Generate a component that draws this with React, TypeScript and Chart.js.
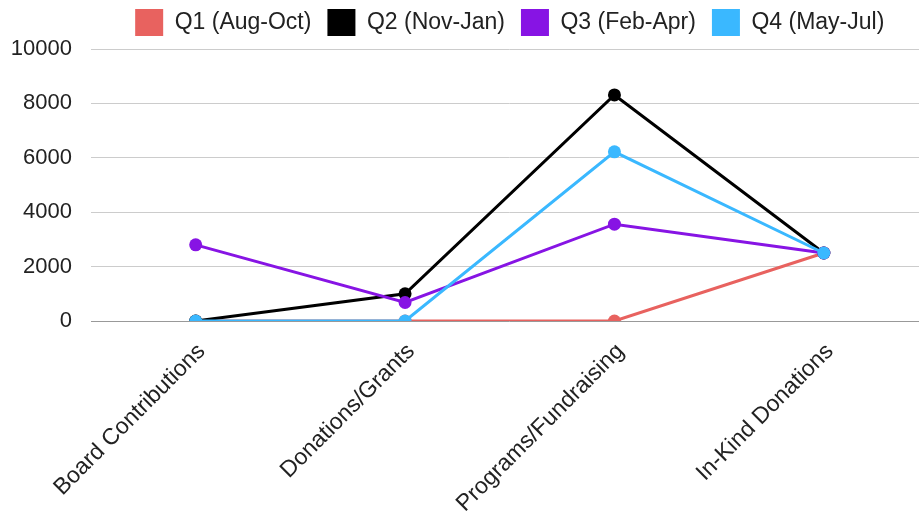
import React, { useEffect, useRef } from 'react';
import { Chart, registerables } from 'chart.js';

Chart.register(...registerables);

const CATEGORIES = ['Board Contributions', 'Donations/Grants', 'Programs/Fundraising', 'In-Kind Donations'];
const SERIES_NAMES = ['Q1 (Aug-Oct)', 'Q2 (Nov-Jan)', 'Q3 (Feb-Apr)', 'Q4 (May-Jul)'];
const Q1 = [0, 0, 0, 2500];
const Q2 = [0, 1000, 8310, 2500];
const Q3 = [2800, 680, 3560, 2500];
const Q4 = [0, 0, 6220, 2500];
const SERIES = [Q1, Q2, Q3, Q4];
const COLORS = ['#e8625f', '#000000', '#8714e4', '#3ab8ff'];
const Y_TICKS = [0, 2000, 4000, 6000, 8000, 10000];

const FONT_FAMILY = '"Liberation Sans", Arial, Helvetica, sans-serif';

const legendHeightPlugin = {
  id: 'legendHeight',
  beforeInit(chart: any) {
    const legend = chart.legend;
    if (!legend) return;
    const orig = legend.fit;
    legend.fit = function () {
      orig.call(this);
      this.height = 56;
    };
  },
};

export default function App() {
  const ref = useRef<HTMLCanvasElement | null>(null);

  useEffect(() => {
    if (!ref.current) return;
    const chart = new Chart(ref.current, {
      type: 'line',
      data: {
        labels: CATEGORIES,
        datasets: SERIES.map((d, i) => ({
          label: SERIES_NAMES[i],
          data: d,
          borderColor: COLORS[i],
          backgroundColor: COLORS[i],
          pointBackgroundColor: COLORS[i],
          borderWidth: 3,
          pointRadius: 6.5,
          pointHoverRadius: 6.5,
          pointBorderWidth: 0,
          tension: 0,
          order: SERIES.length - 1 - i,
        })),
      },
      options: {
        animation: false,
        responsive: true,
        maintainAspectRatio: false,
        layout: { padding: { top: -7, left: 0, right: 0, bottom: 0 } },
        plugins: {
          legend: {
            position: 'top',
            fullSize: false,
            labels: {
              boxWidth: 28,
              boxHeight: 27,
              padding: 16,
              color: '#222',
              font: { family: FONT_FAMILY, size: 23 },
              sort: (a: any, b: any) => a.datasetIndex - b.datasetIndex,
              generateLabels: (c: any) =>
                Chart.defaults.plugins.legend.labels
                  .generateLabels(c)
                  .map((l: any) => ({ ...l, lineWidth: 0, strokeStyle: 'rgba(0,0,0,0)' })),
            },
          },
          tooltip: { enabled: false },
        },
        scales: {
          x: {
            offset: true,
            grid: { display: false },
            border: { display: false },
            ticks: {
              autoSkip: false,
              minRotation: 45,
              maxRotation: 45,
              padding: 9,
              labelOffset: 6,
              color: '#222',
              font: { family: FONT_FAMILY, size: 23 },
            },
            afterFit: (s: any) => {
              s.height = 191;
            },
          },
          y: {
            min: 0,
            max: 10000,
            border: { display: false },
            grid: {
              drawTicks: false,
              color: (ctx: any) => (ctx.tick && ctx.tick.value === 0 ? '#999999' : '#cccccc'),
              lineWidth: 1,
            },
            ticks: {
              padding: 19,
              color: '#222',
              font: { family: FONT_FAMILY, size: 22 },
              callback: (v: any) => String(v),
            },
            afterBuildTicks: (s: any) => {
              s.ticks = Y_TICKS.map((v) => ({ value: v }));
            },
            afterFit: (s: any) => {
              s.width = 91;
            },
          },
        },
      },
      plugins: [legendHeightPlugin],
    } as any);
    return () => chart.destroy();
  }, []);

  return (
    <div
      style={{
        position: 'absolute',
        left: 0,
        top: 0,
        width: 919,
        height: 512,
        overflow: 'hidden',
        background: '#ffffff',
      }}
    >
      <div style={{ position: 'relative', width: 935, height: 512 }}>
        <canvas ref={ref} />
      </div>
    </div>
  );
}
